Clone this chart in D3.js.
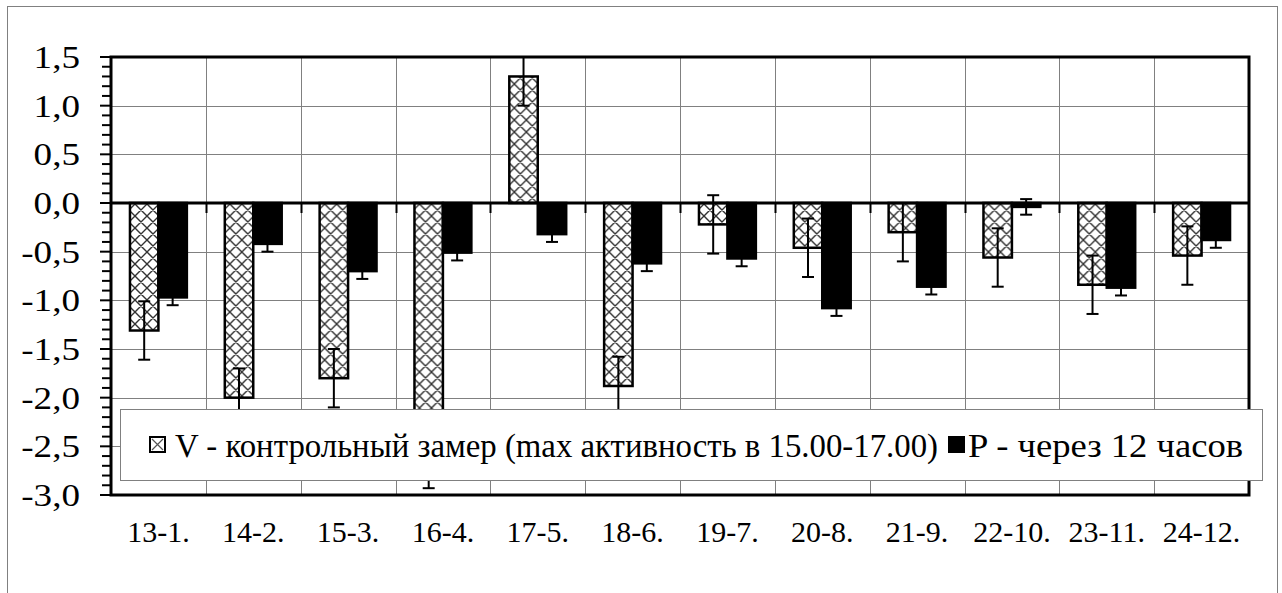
<!DOCTYPE html>
<html lang="ru">
<head>
    <meta charset="UTF-8">
    <title>V / P</title>
    <style>
        html, body {
            margin: 0px;
            padding: 0px;
            background-color: white;
        }
        #vis {
            width: 1282px;
            height: 593px;
        }
        .grid line {
            stroke: #808080;
            stroke-width: 1px;
        }
        svg text {
            fill: #000;
        }
    </style>
</head>
<body>
    <div id="vis"></div>
    <script src="https://cdn.jsdelivr.net/npm/d3@7"></script>
    <script>

        // categories on the x axis
        var categories = ["13-1.", "14-2.", "15-3.", "16-4.", "17-5.", "18-6.",
                          "19-7.", "20-8.", "21-9.", "22-10.", "23-11.", "24-12."];

        // V - hatched series and its error
        var vValues = [-1.31, -2.0, -1.8, -2.63, 1.3, -1.88, -0.22, -0.46, -0.3, -0.56, -0.84, -0.54];
        var vErrors = [0.3, 0.3, 0.3, 0.3, 0.3, 0.3, 0.3, 0.3, 0.3, 0.3, 0.3, 0.3];

        // P - black series and its error
        var pValues = [-0.97, -0.42, -0.7, -0.51, -0.32, -0.62, -0.57, -1.08, -0.86, -0.04, -0.87, -0.38];
        var pErrors = [0.08, 0.08, 0.08, 0.08, 0.08, 0.08, 0.08, 0.08, 0.08, 0.08, 0.08, 0.08];

        var seriesNames = ["V - контрольный замер (max активность в 15.00-17.00)", "P - через 12 часов"];

        // y tick values
        var yTicks = [1.5, 1.0, 0.5, 0.0, -0.5, -1.0, -1.5, -2.0, -2.5, -3.0];

        var width = 1282;
        var height = 593;

        // plot area ("top" is taken by window.top)
        var pLeft = 111, pRight = 1249, pTop = 57, pBottom = 495;

        var svg = d3.select("#vis")
            .append("svg")
            .attr("width", width)
            .attr("height", height)
            .attr("font-family", "'Liberation Serif', 'Times New Roman', 'DejaVu Serif', serif");

        var defs = svg.append("defs");

        // cross hatch for V bars
        var pat = defs.append("pattern")
            .attr("id", "hatch")
            .attr("patternUnits", "userSpaceOnUse")
            .attr("width", 12)
            .attr("height", 12);
        pat.append("rect").attr("width", 12).attr("height", 12).attr("fill", "white");
        pat.append("path")
            .attr("d", "M0,0L12,12M0,12L12,0M-1,1L1,-1M11,13L13,11M-1,11L1,13M11,-1L13,1")
            .attr("stroke", "#333")
            .attr("stroke-width", 1.4);

        defs.append("clipPath")
            .attr("id", "plotclip")
            .append("rect")
            .attr("x", pLeft)
            .attr("y", pTop)
            .attr("width", pRight - pLeft)
            .attr("height", pBottom - pTop);

        // outer frame
        svg.append("rect")
            .attr("x", 7.5)
            .attr("y", 6.5)
            .attr("width", 1270)
            .attr("height", 620)
            .attr("fill", "white")
            .attr("stroke", "#808080")
            .attr("stroke-width", 1);

        var y_scale = d3.scaleLinear()
            .domain([-3, 1.5])
            .range([pBottom, pTop]);

        var x_scale = d3.scaleBand()
            .domain(categories)
            .range([pLeft, pRight]);

        var bw = x_scale.bandwidth();

        var x_inner = d3.scaleBand()
            .domain([0, 1])
            .range([bw * 0.2, bw * 0.8]);

        function fmt(v) {
            var s = Math.abs(v).toFixed(1).replace(".", ",");
            return (v < -0.001 ? "-" : "") + s;
        }

        // grid lines
        var grid = svg.append("g").attr("class", "grid");
        grid.selectAll(".h")
            .data(yTicks)
            .enter()
            .append("line")
            .attr("x1", pLeft)
            .attr("x2", pRight)
            .attr("y1", function(d) { return Math.round(y_scale(d)) + 0.5; })
            .attr("y2", function(d) { return Math.round(y_scale(d)) + 0.5; });
        grid.selectAll(".v")
            .data(categories.slice(1))
            .enter()
            .append("line")
            .attr("x1", function(d) { return Math.round(x_scale(d)) + 0.5; })
            .attr("x2", function(d) { return Math.round(x_scale(d)) + 0.5; })
            .attr("y1", pTop)
            .attr("y2", pBottom);

        var data = categories.map(function(c, i) {
            return {cat: c, vals: [
                {s: 0, v: vValues[i], e: vErrors[i]},
                {s: 1, v: pValues[i], e: pErrors[i]}
            ]};
        });

        var plot = svg.append("g").attr("clip-path", "url(#plotclip)");

        var groups = plot.selectAll(".grp")
            .data(data)
            .enter()
            .append("g")
            .attr("transform", function(d) { return "translate(" + x_scale(d.cat) + ",0)"; });

        // bars
        groups.selectAll("rect")
            .data(function(d) { return d.vals; })
            .enter()
            .append("rect")
            .attr("x", function(d) { return x_inner(d.s); })
            .attr("width", x_inner.bandwidth())
            .attr("y", function(d) { return y_scale(Math.max(0, d.v)); })
            .attr("height", function(d) { return Math.abs(y_scale(d.v) - y_scale(0)); })
            .attr("fill", function(d) { return d.s == 0 ? "url(#hatch)" : "#000"; })
            .attr("stroke", "#000")
            .attr("stroke-width", 2.5);

        // error bars
        var eb = groups.selectAll(".err")
            .data(function(d) { return d.vals; })
            .enter()
            .append("g")
            .attr("stroke", "#000")
            .attr("stroke-width", 2);
        eb.append("line")
            .attr("x1", function(d) { return x_inner(d.s) + x_inner.bandwidth() / 2; })
            .attr("x2", function(d) { return x_inner(d.s) + x_inner.bandwidth() / 2; })
            .attr("y1", function(d) { return y_scale(d.v + d.e); })
            .attr("y2", function(d) { return y_scale(d.v - d.e); });
        [1, -1].forEach(function(sign) {
            eb.append("line")
                .attr("x1", function(d) { return x_inner(d.s) + x_inner.bandwidth() / 2 - 6; })
                .attr("x2", function(d) { return x_inner(d.s) + x_inner.bandwidth() / 2 + 6; })
                .attr("y1", function(d) { return y_scale(d.v + sign * d.e); })
                .attr("y2", function(d) { return y_scale(d.v + sign * d.e); });
        });

        // plot border and axes
        svg.append("rect")
            .attr("x", pLeft)
            .attr("y", pTop)
            .attr("width", pRight - pLeft)
            .attr("height", pBottom - pTop)
            .attr("fill", "none")
            .attr("stroke", "#000")
            .attr("stroke-width", 3);

        svg.append("line")
            .attr("x1", pLeft)
            .attr("x2", pRight)
            .attr("y1", y_scale(0))
            .attr("y2", y_scale(0))
            .attr("stroke", "#000")
            .attr("stroke-width", 3);

        // x ticks hanging off the zero line
        svg.selectAll(".xt")
            .data(categories.slice(1))
            .enter()
            .append("line")
            .attr("x1", function(d) { return Math.round(x_scale(d)) + 0.5; })
            .attr("x2", function(d) { return Math.round(x_scale(d)) + 0.5; })
            .attr("y1", y_scale(0))
            .attr("y2", y_scale(0) + 10)
            .attr("stroke", "#000")
            .attr("stroke-width", 2);

        // y axis: minor ticks every 0.1, major every 0.5
        var minor = d3.range(-30, 16).map(function(k) { return k / 10; });
        svg.selectAll(".ymin")
            .data(minor)
            .enter()
            .append("line")
            .attr("x1", function(d) { return Math.abs(d * 2 - Math.round(d * 2)) < 0.001 ? pLeft - 11 : pLeft - 9; })
            .attr("x2", pLeft)
            .attr("y1", function(d) { return y_scale(d); })
            .attr("y2", function(d) { return y_scale(d); })
            .attr("stroke", "#000")
            .attr("stroke-width", 2);

        // y labels are a bit stretched sideways in the original
        svg.selectAll(".ylab")
            .data(yTicks)
            .enter()
            .append("text")
            .attr("transform", function(d) { return "translate(80," + (y_scale(d) + 11) + ") scale(1.16,1)"; })
            .attr("text-anchor", "end")
            .attr("font-size", "32px")
            .text(fmt);

        // category labels
        svg.selectAll(".xlab")
            .data(categories)
            .enter()
            .append("text")
            .attr("x", function(d) { return x_scale(d) + bw / 2; })
            .attr("y", 542)
            .attr("text-anchor", "middle")
            .attr("font-size", "30px")
            .text(function(d) { return d; });

        // legend
        var legend = svg.append("g");
        legend.append("rect")
            .attr("x", 120.5)
            .attr("y", 409.5)
            .attr("width", 1142)
            .attr("height", 71)
            .attr("fill", "white")
            .attr("stroke", "#808080")
            .attr("stroke-width", 1);

        var legendX = [150, 949];
        var legendTextX = [25, 19];
        var legendTextLen = [763, 275];
        var items = legend.selectAll(".item")
            .data(seriesNames)
            .enter()
            .append("g")
            .attr("transform", function(d, i) { return "translate(" + legendX[i] + ",437)"; });

        items.append("rect")
            .attr("width", 15)
            .attr("height", 15)
            .attr("fill", function(d, i) { return i == 0 ? "white" : "#000"; })
            .attr("stroke", "#000")
            .attr("stroke-width", 2);
        items.filter(function(d, i) { return i == 0; })
            .append("path")
            .attr("d", "M2,2L13,13M2,13L13,2")
            .attr("stroke", "#555")
            .attr("stroke-width", 1.2);

        items.append("text")
            .attr("x", function(d, i) { return legendTextX[i]; })
            .attr("y", 20)
            .attr("font-size", "33px")
            .attr("textLength", function(d, i) { return legendTextLen[i]; })
            .attr("lengthAdjust", "spacingAndGlyphs")
            .text(function(d) { return d; });

    </script>
</body>
</html>
